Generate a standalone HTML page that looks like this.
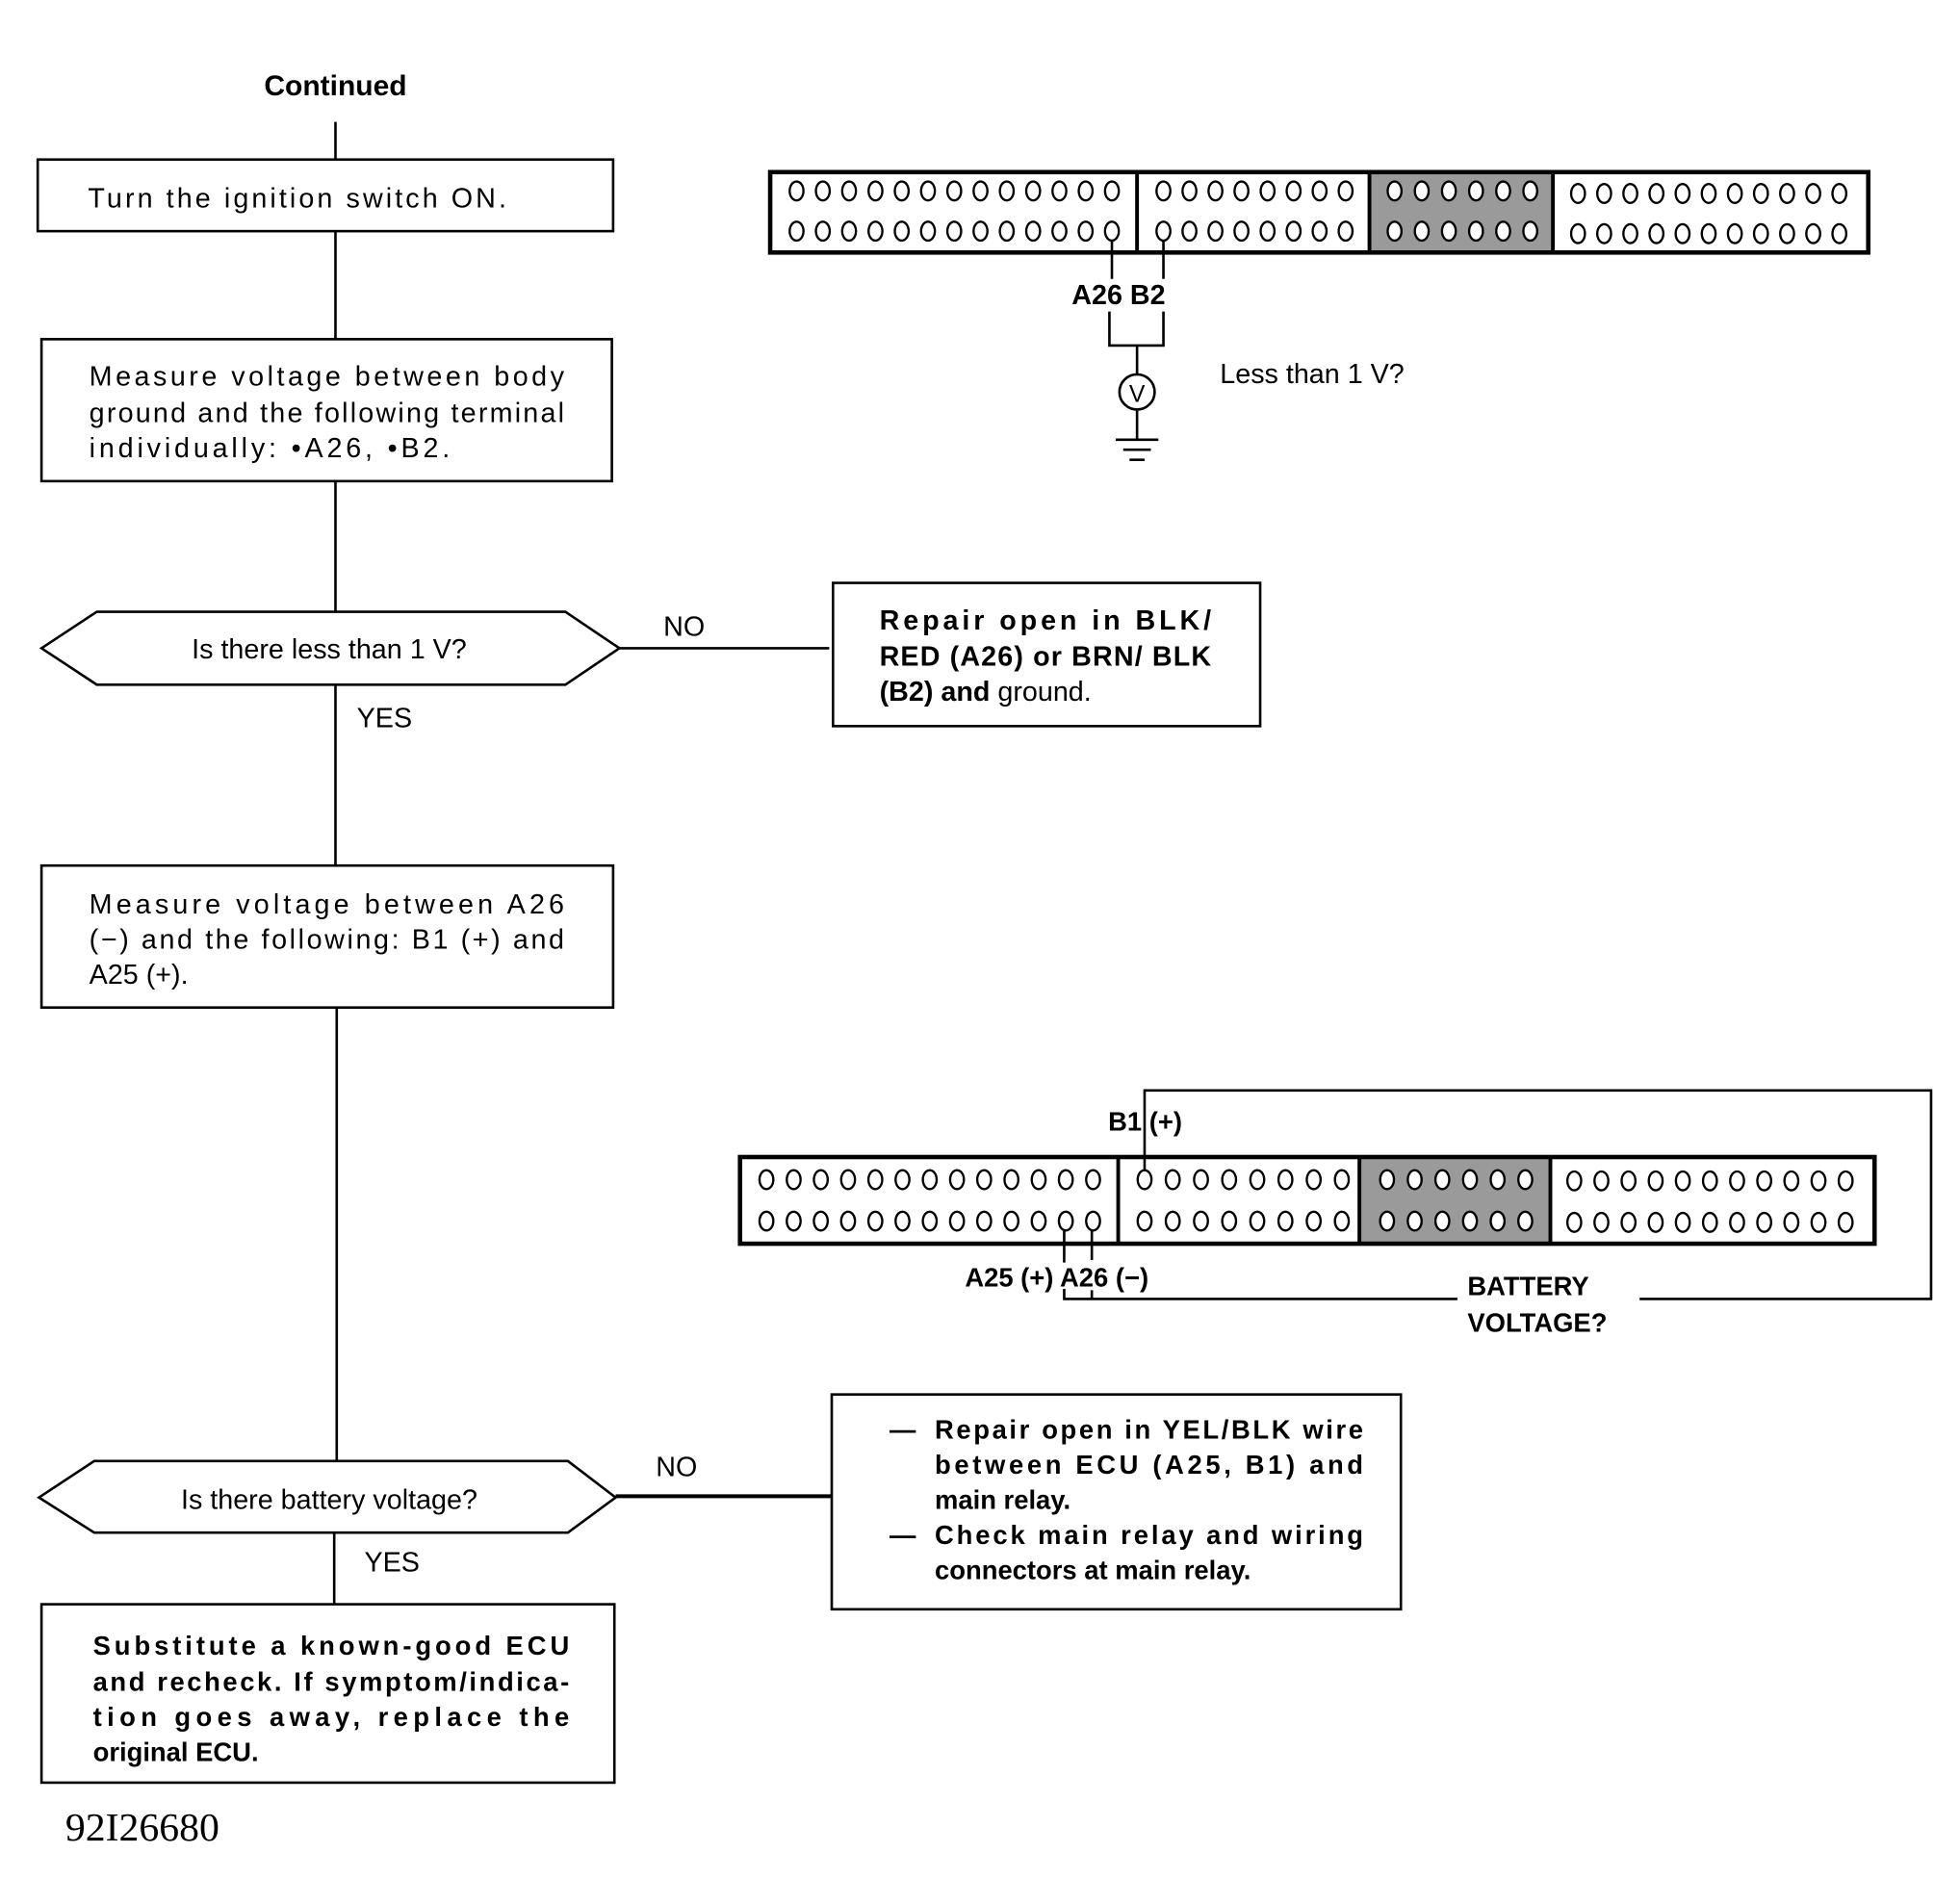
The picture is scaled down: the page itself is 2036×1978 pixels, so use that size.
<!DOCTYPE html>
<html><head><meta charset="utf-8"><style>
html,body{margin:0;padding:0;background:#fff}
svg{display:block}
text{font-family:"Liberation Sans",sans-serif;fill:#000}
.b{font-weight:bold}
</style></head><body>
<svg id="s" width="2036" height="1978" viewBox="0 0 1560 1515.6" xmlns="http://www.w3.org/2000/svg">
<g stroke="#000" fill="none" stroke-width="2">
<line x1="267" y1="97" x2="267" y2="127"/>
<rect x="30" y="127" width="458" height="57"/>
<line x1="267" y1="184" x2="267" y2="270"/>
<rect x="33" y="270" width="454" height="113"/>
<line x1="267" y1="383" x2="267" y2="487"/>
<polygon points="33,516 77,487 450,487 493,516 450,545 77,545"/>
<line x1="493" y1="516" x2="660" y2="516"/>
<rect x="663" y="464" width="340" height="114"/>
<line x1="267" y1="545" x2="267" y2="689"/>
<rect x="33" y="689" width="455" height="113"/>
<line x1="268" y1="802" x2="268" y2="1163"/>
<polygon points="31,1192 75,1163 452,1163 490,1192 452,1220 75,1220"/>
<line x1="490" y1="1191" x2="662" y2="1191" stroke-width="3"/>
<rect x="662" y="1110" width="453" height="171"/>
<line x1="266" y1="1220" x2="266" y2="1277"/>
<rect x="33" y="1277" width="456" height="142"/>

<!-- connector 1 -->
<rect x="1090" y="137" width="146" height="63" fill="#9a9a9a" stroke="none"/>
<rect x="613" y="137" width="874" height="64" stroke-width="3.5"/>
<line x1="905" y1="137" x2="905" y2="201" stroke-width="3"/>
<line x1="1090" y1="137" x2="1090" y2="201" stroke-width="3"/>
<line x1="1236" y1="137" x2="1236" y2="201" stroke-width="3"/>
<line x1="885" y1="184" x2="885" y2="222"/>
<line x1="926" y1="184" x2="926" y2="222"/>
<polyline points="883,248 883,275 926,275 926,248"/>
<line x1="905" y1="275" x2="905" y2="298"/>
<circle cx="905" cy="312" r="14"/>
<line x1="905" y1="326" x2="905" y2="350"/>
<line x1="888" y1="350" x2="922" y2="350"/>
<line x1="894" y1="358" x2="916" y2="358"/>
<line x1="899" y1="366" x2="911" y2="366"/>

<!-- connector 2 -->
<rect x="1082" y="922" width="152" height="67" fill="#9a9a9a" stroke="none"/>
<rect x="589" y="921" width="903" height="69" stroke-width="3.5"/>
<line x1="890" y1="921" x2="890" y2="990" stroke-width="3"/>
<line x1="1082" y1="921" x2="1082" y2="990" stroke-width="3"/>
<line x1="1234" y1="921" x2="1234" y2="990" stroke-width="3"/>
<polyline points="911,931 911,868 1537,868 1537,1034 1305,1034"/>
<polyline points="1160,1034 847,1034 847,1026"/>
<line x1="847" y1="980" x2="847" y2="1005"/>
<line x1="869" y1="980" x2="869" y2="1003"/>
<line x1="869" y1="1027" x2="869" y2="1034"/>
<g id="c" stroke-width="1.8"></g>
</g>

<text x="905" y="320" font-size="19" text-anchor="middle">V</text>
<text x="267" y="76" class="b" font-size="23" text-anchor="middle">Continued</text>
<text x="70" y="165" font-size="22" textLength="333">Turn the ignition switch ON.</text>
<text font-size="22"><tspan x="71" y="307" textLength="378">Measure voltage between body</tspan><tspan x="71" y="336" textLength="378">ground and the following terminal</tspan><tspan x="71" y="364" textLength="287">individually: •A26, •B2.</tspan></text>
<text x="262" y="524" font-size="22" text-anchor="middle">Is there less than 1 V?</text>
<text x="528" y="506" font-size="22">NO</text>
<text x="284" y="579" font-size="22">YES</text>
<text font-size="22" class="b"><tspan x="700" y="501" textLength="264">Repair open in BLK/</tspan><tspan x="700" y="530" textLength="264">RED (A26) or BRN/ BLK</tspan><tspan x="700" y="558">(B2) and <tspan font-weight="normal">ground.</tspan></tspan></text>
<text font-size="22"><tspan x="71" y="727" textLength="378">Measure voltage between A26</tspan><tspan x="71" y="755" textLength="378">(−) and the following: B1 (+) and</tspan><tspan x="71" y="783">A25 (+).</tspan></text>
<text x="262" y="1201" font-size="22" text-anchor="middle">Is there battery voltage?</text>
<text x="522" y="1175" font-size="22">NO</text>
<text x="290" y="1251" font-size="22">YES</text>
<text font-size="21" class="b"><tspan x="708" y="1145">—</tspan><tspan x="744" y="1145" textLength="341">Repair open in YEL/BLK wire</tspan><tspan x="744" y="1173" textLength="341">between ECU (A25, B1) and</tspan><tspan x="744" y="1201">main relay.</tspan><tspan x="708" y="1229">—</tspan><tspan x="744" y="1229" textLength="341">Check main relay and wiring</tspan><tspan x="744" y="1257">connectors at main relay.</tspan></text>
<text font-size="21" class="b"><tspan x="74" y="1317" textLength="379">Substitute a known-good ECU</tspan><tspan x="74" y="1346" textLength="379">and recheck. If symptom/indica-</tspan><tspan x="74" y="1374" textLength="379">tion goes away, replace the</tspan><tspan x="74" y="1402">original ECU.</tspan></text>
<text x="52" y="1465" font-size="32" style="font-family:'Liberation Serif',serif">92I26680</text>

<text x="853" y="242" font-size="22" class="b">A26 B2</text>
<text x="971" y="305" font-size="22">Less than 1 V?</text>
<text x="882" y="900" font-size="21" class="b">B1 (+)</text>
<text x="768" y="1024" font-size="21" class="b">A25 (+) A26 (−)</text>
<text font-size="21" class="b"><tspan x="1168" y="1031">BATTERY</tspan><tspan x="1168" y="1060">VOLTAGE?</tspan></text>
</svg>
<script>
var g=document.getElementById('c'),h='';
function row(x0,x1,n,y){for(var i=0;i<n;i++){var x=x0+(x1-x0)*i/(n-1);h+='<ellipse cx="'+x.toFixed(1)+'" cy="'+y+'" rx="5.5" ry="7.5" fill="#fff"/>';}}
row(634,885,13,152);row(634,885,13,184);row(926,1071,8,152);row(926,1071,8,184);
row(1110,1218,6,152);row(1110,1218,6,184);row(1256,1464,11,154);row(1256,1464,11,186);
row(610,870,13,939);row(610,870,13,972);row(911,1068,8,939);row(911,1068,8,972);
row(1104,1214,6,939);row(1104,1214,6,972);row(1253,1469,11,940);row(1253,1469,11,973);
g.innerHTML=h;
</script>
</body></html>
